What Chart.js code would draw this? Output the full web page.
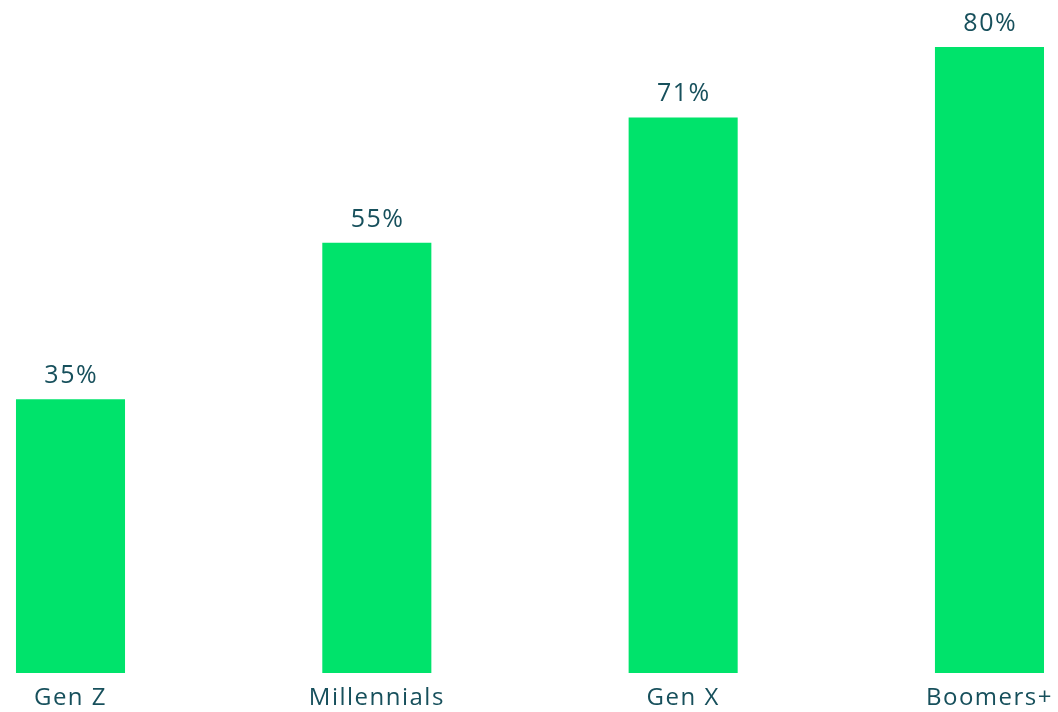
<!DOCTYPE html>
<html><head><meta charset="utf-8">
<script src="https://cdn.jsdelivr.net/npm/chart.js@4/dist/chart.umd.min.js"></script>
<style>html,body{margin:0;padding:0;background:#fff}#wrap{width:1058px;height:712px}</style>
</head><body><div id="wrap"><canvas id="c"></canvas></div>
<script>
const categories = ["Gen Z", "Millennials", "Gen X", "Boomers+"];
const values = [35, 55, 71, 80];
const valueLabels = ["35%", "55%", "71%", "80%"];

const TEXT = "#17505c";
const FONT = "'Open Sans', Lato, sans-serif";

const spacingPlugin = {
  id: "spacing",
  beforeDraw(chart) { chart.ctx.letterSpacing = "1.5px"; }
};

const valueLabelPlugin = {
  id: "valueLabels",
  afterDatasetsDraw(chart) {
    const ctx = chart.ctx;
    const meta = chart.getDatasetMeta(0);
    ctx.save();
    ctx.letterSpacing = "1.5px";
    ctx.fillStyle = TEXT;
    ctx.font = "400 25px " + FONT;
    ctx.textAlign = "center";
    ctx.textBaseline = "alphabetic";
    meta.data.forEach((bar, i) => {
      ctx.fillText(valueLabels[i], bar.x + 0.75, bar.y - 16);
    });
    ctx.restore();
  }
};

new Chart(document.getElementById("c"), {
  type: "bar",
  data: {
    labels: categories,
    datasets: [{
      data: values,
      backgroundColor: "#00e36b",
      borderWidth: 0,
      categoryPercentage: 1,
      barPercentage: 0.356,
      clip: false
    }]
  },
  options: {
    responsive: true,
    maintainAspectRatio: false,
    animation: false,
    layout: { padding: { top: 47, left: 70.5, right: 68.5, bottom: 0 } },
    plugins: { legend: { display: false }, tooltip: { enabled: false } },
    scales: {
      x: {
        offset: false,
        grid: { display: false, drawTicks: false },
        border: { display: false },
        ticks: { color: TEXT, font: { family: FONT, size: 24 }, padding: 11, maxRotation: 0, autoSkip: false },
        afterFit(scale) { scale.height = 39; }
      },
      y: {
        display: false,
        min: 0,
        max: 80
      }
    }
  },
  plugins: [spacingPlugin, valueLabelPlugin]
});
</script></body></html>
